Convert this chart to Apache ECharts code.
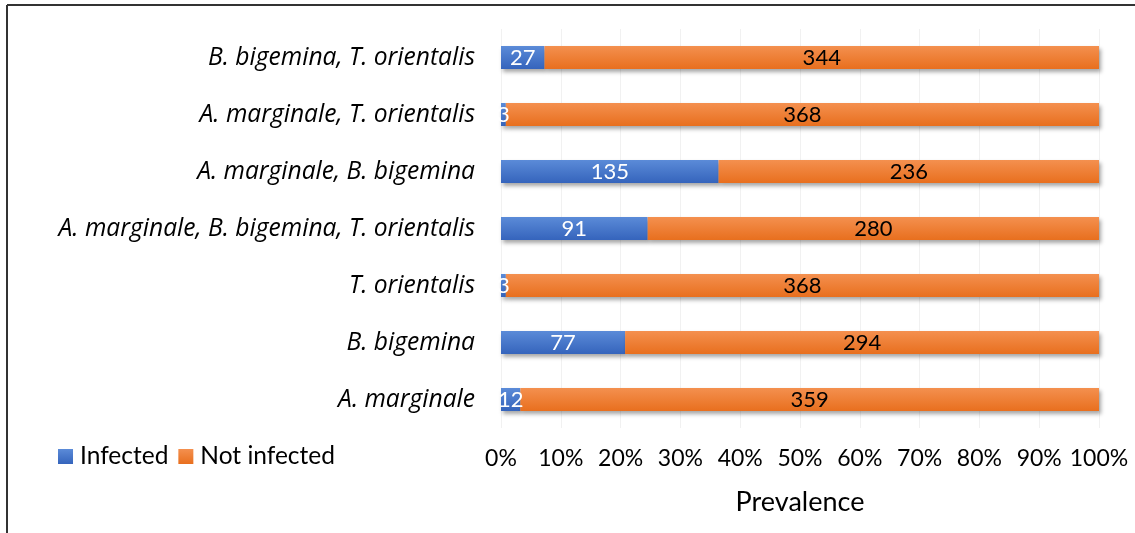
<!DOCTYPE html>
<html>
<head>
<meta charset="utf-8">
<script src="https://cdn.jsdelivr.net/npm/echarts@6/dist/echarts.min.js"></script>
<style>
html,body{margin:0;padding:0;background:#fff;}
#c{width:1135px;height:533px;}
</style>
</head>
<body>
<div id="c"></div>
<script>
var categories = ['A. marginale', 'B. bigemina', 'T. orientalis', 'A. marginale, B. bigemina, T. orientalis', 'A. marginale, B. bigemina', 'A. marginale, T. orientalis', 'B. bigemina, T. orientalis'];
var infected = [12, 77, 3, 91, 135, 3, 27];
var notInfected = [359, 294, 368, 280, 236, 368, 344];
var xTicks = ['0%','10%','20%','30%','40%','50%','60%','70%','80%','90%','100%'];

function pct(arr, i) { return arr[i] / (infected[i] + notInfected[i]) * 100; }
var infData = infected.map(function (v, i) { return { value: pct(infected, i), count: v }; });
var notData = notInfected.map(function (v, i) { return { value: pct(notInfected, i), count: v }; });

var FONT = 'Lato';
var chart = echarts.init(document.getElementById('c'));
var shadow = { shadowColor: 'rgba(0,0,0,0.35)', shadowBlur: 4, shadowOffsetX: 2, shadowOffsetY: 3 };
function grad(top, bottom) {
  return new echarts.graphic.LinearGradient(0, 0, 0, 1, [{ offset: 0, color: top }, { offset: 1, color: bottom }]);
}
chart.setOption({
  animation: false,
  textStyle: { fontFamily: FONT },
  grid: { left: 501, right: 36, top: 29, bottom: 105, containLabel: false },
  legend: {
    left: 53, top: 439,
    itemWidth: 15, itemHeight: 15, itemGap: 10,
    icon: 'rect',
    textStyle: { fontSize: 24.5, color: '#000', fontFamily: FONT, padding: [0, 0, 0, 2] },
    data: ['Infected', 'Not infected']
  },
  xAxis: {
    type: 'value', min: 0, max: 100, interval: 10,
    name: 'Prevalence', nameLocation: 'middle', nameGap: 61,
    nameTextStyle: { fontSize: 27, color: '#000', fontFamily: FONT },
    axisLabel: { fontSize: 23, color: '#000', margin: 19, fontFamily: FONT,
      formatter: function (v) { return xTicks[Math.round(v / 10)]; } },
    axisLine: { show: false }, axisTick: { show: false },
    splitLine: { show: true, lineStyle: { color: '#f1f1f1', width: 1 } }
  },
  yAxis: {
    type: 'category', data: categories,
    axisLabel: { fontSize: 24.6, color: '#000', fontStyle: 'italic', margin: 26, fontFamily: 'Open Sans' },
    axisLine: { show: false }, axisTick: { show: false }
  },
  series: [
    {
      name: 'Infected', type: 'bar', stack: 'a', barWidth: 23,
      data: infData,
      itemStyle: Object.assign({ color: grad('#5B8BD8', '#3564BC') }, shadow),
      label: { show: true, position: 'inside', color: '#fff', fontSize: 22, fontFamily: FONT,
        formatter: function (p) { return p.data.count; } }
    },
    {
      name: 'Not infected', type: 'bar', stack: 'a', barWidth: 23,
      data: notData,
      itemStyle: Object.assign({ color: grad('#F4904F', '#E86F1E') }, shadow),
      label: { show: true, position: 'inside', color: '#000', fontSize: 22, fontFamily: FONT,
        formatter: function (p) { return p.data.count; } }
    }
  ],
  graphic: [
    { type: 'line', shape: { x1: 7, y1: 5, x2: 1135, y2: 5 }, style: { stroke: '#333', lineWidth: 2 } },
    { type: 'line', shape: { x1: 7, y1: 5, x2: 7, y2: 533 }, style: { stroke: '#333', lineWidth: 2 } }
  ]
});
</script>
</body>
</html>
